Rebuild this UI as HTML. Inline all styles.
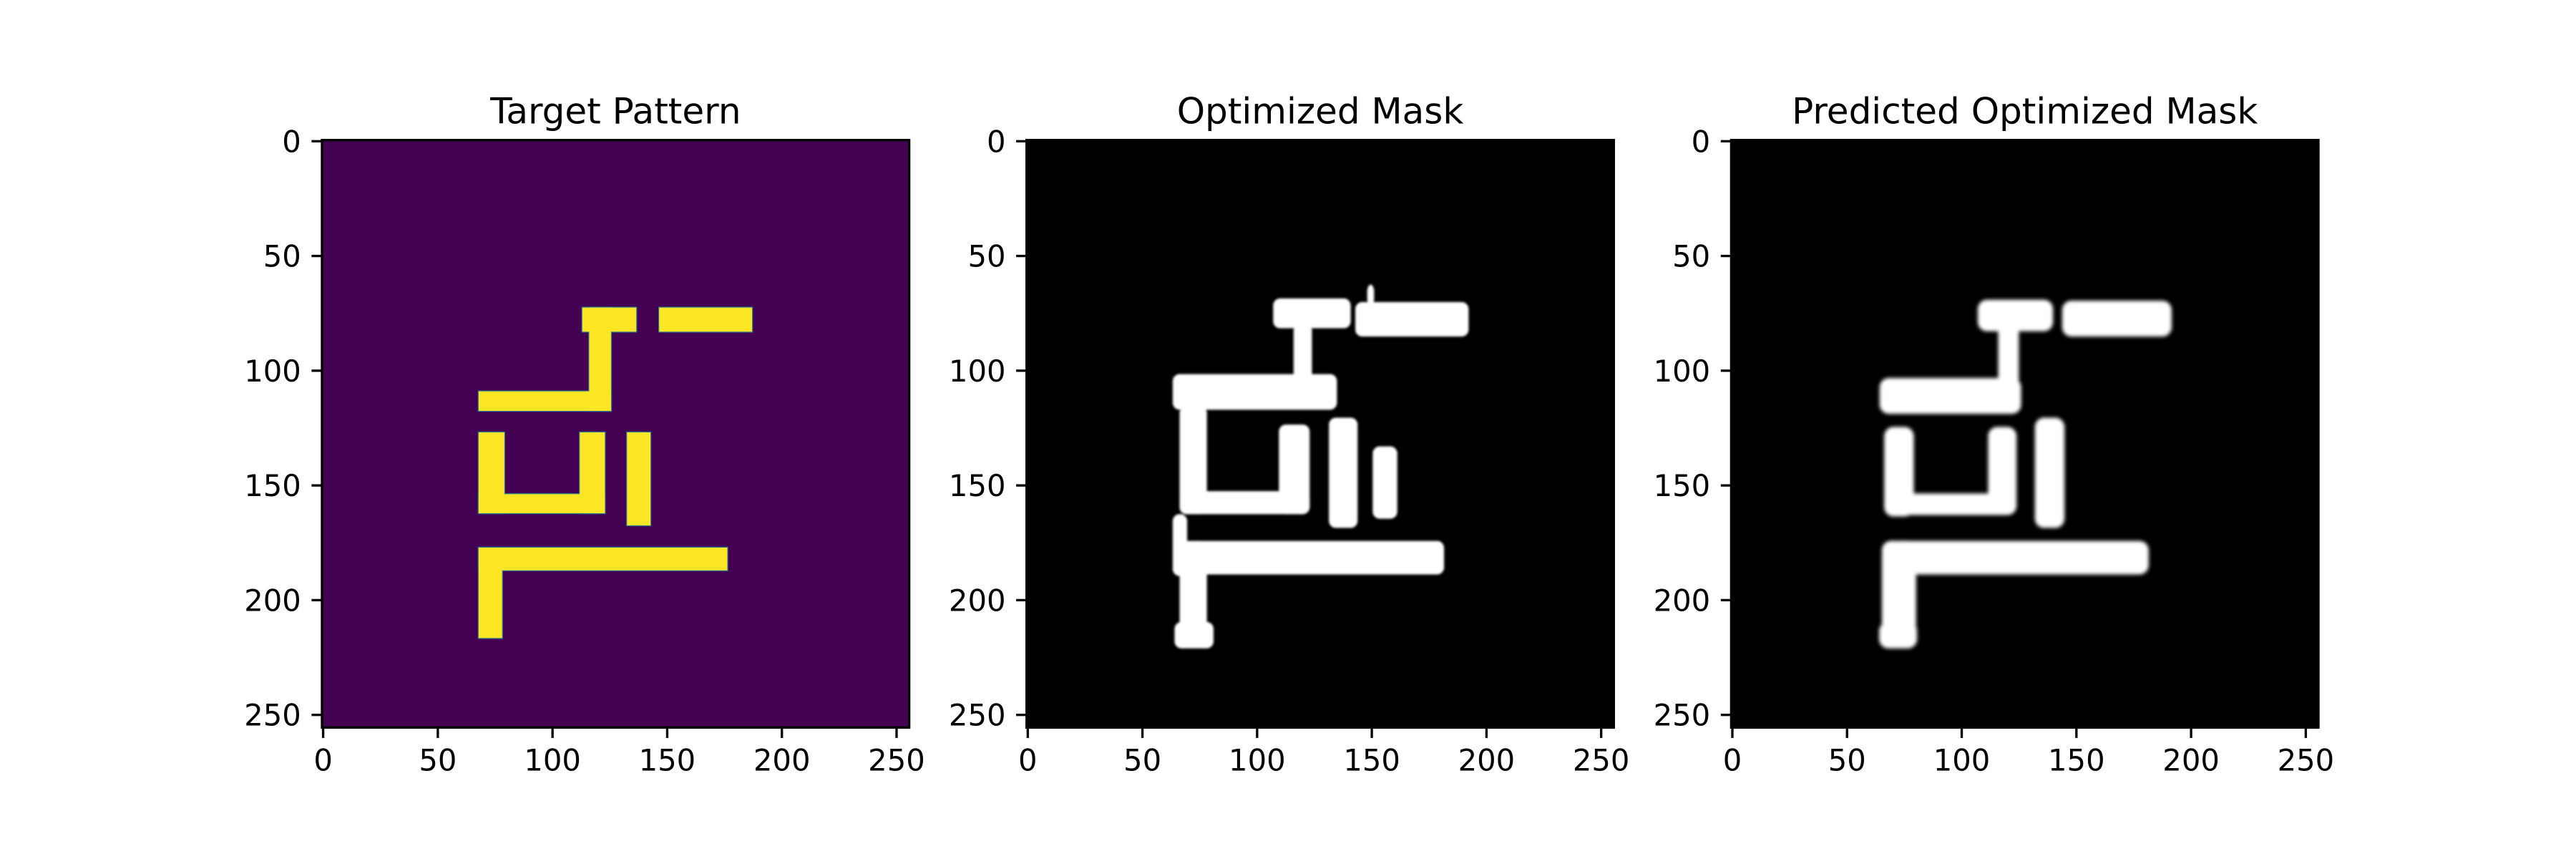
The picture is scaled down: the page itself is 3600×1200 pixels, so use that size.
<!DOCTYPE html>
<html><head><meta charset="utf-8"><style>
html,body{margin:0;padding:0;background:#fff;}
svg{display:block;}
text{font-family:"DejaVu Sans","Liberation Sans",sans-serif;fill:#000;}
</style></head><body>
<svg id="fig" width="3600" height="1200" viewBox="0 0 3600 1200" xmlns="http://www.w3.org/2000/svg">
<defs>
<filter id="blur1" x="-20%" y="-20%" width="140%" height="140%"><feGaussianBlur stdDeviation="1.5"/></filter>
<filter id="blur2" x="-20%" y="-20%" width="140%" height="140%"><feGaussianBlur stdDeviation="2.6"/></filter>
</defs>
</svg>
<script>
// Data (image coordinates, pixel units 0..255), rectangles as [x0, y0, x1, y1]
const panelTitles = ["Target Pattern", "Optimized Mask", "Predicted Optimized Mask"];
const tickValues = [0, 50, 100, 150, 200, 250];
const tickLabels = ["0", "50", "100", "150", "200", "250"];
const targetRects = [
  [113.5, 73, 137, 83.5],
  [147, 73, 187.5, 83.5],
  [116.5, 73, 126, 118],
  [68.3, 109.5, 126, 118],
  [68.3, 127.4, 79.5, 162.6],
  [68.3, 154.3, 123.3, 162.6],
  [112.4, 127.4, 123.3, 162.6],
  [133, 127.4, 143.2, 167.9],
  [68.3, 177.6, 176.7, 187.5],
  [68.3, 177.6, 78.5, 217]
];
const optimizedRects = [
  [107.5, 69, 141.3, 82],
  [143.3, 70.6, 192.7, 85.6],
  [148.5, 63, 151.5, 72],
  [116.4, 80, 124.4, 115],
  [63.7, 102, 135.3, 117.5],
  [66.7, 116, 78.6, 163],
  [66.7, 153, 123.4, 163],
  [110, 124, 123.4, 163],
  [131.8, 121, 144.3, 169],
  [150.9, 133.5, 161.6, 165],
  [66.7, 174.7, 182, 189.3],
  [63.7, 163, 70, 190],
  [66.7, 174.7, 78.6, 221],
  [64.5, 210, 81.5, 221.5]
];
const predictedRects = [
  [107.5, 69.6, 140.3, 83.3],
  [144.3, 70, 192, 85.6],
  [116.4, 80, 125.4, 116],
  [64.7, 103.7, 126.4, 119.3],
  [66.7, 125, 79.6, 164],
  [66.7, 154, 123.4, 163.4],
  [112, 125, 124.4, 163.4],
  [132.4, 121, 145.3, 169],
  [65.7, 174.7, 182, 189.3],
  [65.7, 174.7, 80.6, 221],
  [64.5, 210, 81, 221.5]
];

const NS = "http://www.w3.org/2000/svg";
const svg = document.getElementById("fig");
const axW = 820.6, axTop = 195.7;
const axLefts = [450, 1434.7, 2419.4];
const k = axW / 256;
const FS = 41.7, TFS = 50, TL = 14.6, PAD = 14.6, LW = 3.33;
function xs(p, v) { return axLefts[p] + (v + 0.5) * k; }
function ys(v) { return axTop + (v + 0.5) * k; }
function mk(tag, attrs, parent) {
  const e = document.createElementNS(NS, tag);
  for (const a in attrs) e.setAttribute(a, attrs[a]);
  (parent || svg).appendChild(e);
  return e;
}

const fills = [
  {bg: "#440154", fg: "#fde725", rects: targetRects, rx: 0, filter: null, names: "target-shape"},
  {bg: "#000000", fg: "#ffffff", rects: optimizedRects, rx: 3, filter: "url(#blur1)", names: "optimized-shape"},
  {bg: "#000000", fg: "#ffffff", rects: predictedRects, rx: 4, filter: "url(#blur2)", names: "predicted-shape"}
];

for (let p = 0; p < 3; p++) {
  const g = mk("g", {});
  
  
  const L = axLefts[p];
  const bg = mk("rect", {x: L, y: axTop, width: axW, height: axW, fill: fills[p].bg}, g);
  
  
  const sg = mk("g", fills[p].filter ? {filter: fills[p].filter} : {}, g);
  
  
  const passes = p === 0 ? [{stroke: "#2a788e", sw: 2.5}, {stroke: null}] : [{stroke: null}];
  passes.forEach(pass => {
    fills[p].rects.forEach(r => {
      const x0 = xs(p, r[0] - 0.5), y0 = ys(r[1] - 0.5), x1 = xs(p, r[2] - 0.5), y1 = ys(r[3] - 0.5);
      const attrs = {x: x0, y: y0, width: x1 - x0, height: y1 - y0, fill: fills[p].fg, rx: fills[p].rx * k};
      if (pass.stroke) { attrs.stroke = pass.stroke; attrs["stroke-width"] = pass.sw; }
      const e = mk("rect", attrs, sg);
      
      
    });
  });
  const sp = mk("rect", {x: L, y: axTop, width: axW, height: axW, fill: "none", stroke: "#000", "stroke-width": LW}, g);
  
  
  tickValues.forEach((v, i) => {
    const tx = xs(p, v), bottom = axTop + axW;
    const t1 = mk("line", {x1: tx, y1: bottom, x2: tx, y2: bottom + TL, stroke: "#000", "stroke-width": LW}, g);
    
    
    const l1 = mk("text", {x: tx, y: bottom + TL + PAD + 31, "font-size": FS, "text-anchor": "middle"}, g);
    l1.textContent = tickLabels[i];
    
    
    const ty = ys(v);
    const t2 = mk("line", {x1: L, y1: ty, x2: L - TL, y2: ty, stroke: "#000", "stroke-width": LW}, g);
    
    
    const l2 = mk("text", {x: L - TL - PAD, y: ty + 15, "font-size": FS, "text-anchor": "end"}, g);
    l2.textContent = tickLabels[i];
    
    
  });
  const title = mk("text", {x: L + axW / 2, y: axTop - 23, "font-size": TFS, "text-anchor": "middle"}, g);
  title.textContent = panelTitles[p];
  
  
}
</script>
</body></html>
